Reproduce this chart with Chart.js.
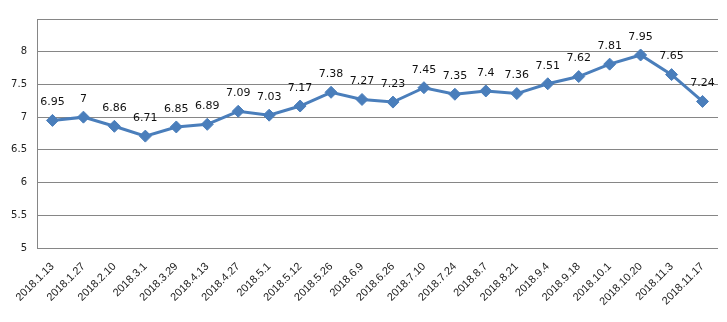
<!DOCTYPE html>
<html>
<head>
<meta charset="utf-8">
<script src="https://cdn.jsdelivr.net/npm/chart.js@4"></script>
<style>
html,body{margin:0;padding:0;background:#fff;}
#wrap{width:727px;height:322px;}
</style>
</head>
<body>
<div id="wrap"><canvas id="chart"></canvas></div>
<script>
var dates = ['2018.1.13','2018.1.27','2018.2.10','2018.3.1','2018.3.29','2018.4.13','2018.4.27',
    '2018.5.1','2018.5.12','2018.5.26','2018.6.9','2018.6.26','2018.7.10','2018.7.24','2018.8.7',
    '2018.8.21','2018.9.4','2018.9.18','2018.10.1','2018.10.20','2018.11.3','2018.11.17'];
var values = [6.95,7,6.86,6.71,6.85,6.89,7.09,7.03,7.17,7.38,7.27,7.23,7.45,7.35,7.4,7.36,7.51,7.62,7.81,7.95,7.65,7.24];
var yMin = 5, yMax = 8.5, yStep = 0.5;

// labels above each point
var valueLabels = {
    id: 'valueLabels',
    afterDatasetsDraw: function(chart){
        var ctx = chart.ctx;
        var meta = chart.getDatasetMeta(0);
        ctx.save();
        ctx.font = '11px "DejaVu Sans"';
        ctx.fillStyle = '#111';
        ctx.textAlign = 'center';
        ctx.textBaseline = 'middle';
        meta.data.forEach(function(pt, i){
            ctx.fillText(String(values[i]), pt.x, pt.y - 18);
        });
        ctx.restore();
    }
};

var ctx = document.getElementById('chart').getContext('2d');
var chart = new Chart(ctx, {
    type: 'line',
    data: {
        labels: dates,
        datasets: [{
            data: values,
            borderColor: '#4a7ebb',
            backgroundColor: '#4a7ebb',
            borderWidth: 3,
            pointStyle: 'rectRot',
            pointRadius: 6,
            pointBorderWidth: 1,
            tension: 0,
            fill: false
        }]
    },
    options: {
        responsive: true,
        maintainAspectRatio: false,
        animation: false,
        layout: {padding: {top: 19, right: 9, left: 0, bottom: 0}},
        plugins: {legend: {display: false}, tooltip: {enabled: false}},
        scales: {
            x: {
                offset: true,
                grid: {display: false, drawTicks: false},
                border: {display: false},
                ticks: {
                    minRotation: 45, maxRotation: 45, autoSkip: false,
                    padding: 12,
                    color: '#222',
                    font: {family: '"Liberation Sans"', size: 11}
                },
                afterFit: function(s){ s.height = 74; s.paddingLeft = 0; s.paddingRight = 0; }
            },
            y: {
                min: yMin, max: yMax,
                grid: {color: '#868686', lineWidth: 1, drawTicks: false},
                border: {display: true, color: '#868686'},
                ticks: {
                    stepSize: yStep,
                    padding: 10,
                    color: '#222',
                    font: {family: '"DejaVu Sans"', size: 10},
                    callback: function(v){ return v >= yMax ? '' : v; }
                },
                afterFit: function(s){ s.width = 37; }
            }
        }
    },
    plugins: [valueLabels]
});
</script>
</body>
</html>
